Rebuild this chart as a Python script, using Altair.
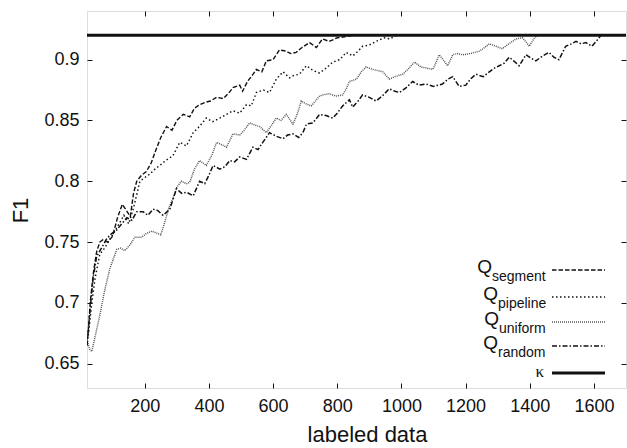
import altair as alt
import pandas as pd

# ---------------- data ----------------
X_DOMAIN = [20, 1700]
Y_DOMAIN = [0.63, 0.94]
X_TICKS = [200, 400, 600, 800, 1000, 1200, 1400, 1600]
Y_TICKS = [0.65, 0.7, 0.75, 0.8, 0.85, 0.9]
KAPPA = 0.92

series_names = ["segment", "pipeline", "uniform", "random"]

q_segment = [
    (20, 0.665), (25, 0.68), (30, 0.70), (40, 0.725), (50, 0.742), (60, 0.75),
    (70, 0.752), (85, 0.75), (100, 0.755), (115, 0.77), (130, 0.781), (145, 0.775),
    (155, 0.771), (165, 0.79), (175, 0.80), (190, 0.805), (205, 0.808), (220, 0.815),
    (235, 0.826), (250, 0.836), (268, 0.845), (285, 0.842), (300, 0.85), (320, 0.855),
    (340, 0.853), (355, 0.86), (371, 0.863), (390, 0.865), (405, 0.866), (424, 0.869),
    (445, 0.868), (460, 0.872), (475, 0.877), (496, 0.879), (505, 0.874), (520, 0.882),
    (535, 0.887), (548, 0.892), (565, 0.89), (579, 0.899), (600, 0.90), (620, 0.908),
    (640, 0.907), (655, 0.905), (672, 0.906), (690, 0.91), (714, 0.914), (735, 0.91),
    (754, 0.917), (775, 0.915), (800, 0.918), (828, 0.919), (848, 0.92),
]

q_pipeline = [
    (20, 0.67), (25, 0.675), (35, 0.70), (45, 0.72), (60, 0.74), (75, 0.745),
    (90, 0.752), (105, 0.758), (120, 0.765), (135, 0.772), (150, 0.765), (165, 0.778),
    (185, 0.80), (200, 0.803), (216, 0.806), (232, 0.81), (247, 0.813), (265, 0.817),
    (288, 0.821), (309, 0.832), (330, 0.829), (351, 0.84), (370, 0.845), (392, 0.852),
    (412, 0.849), (434, 0.852), (455, 0.855), (475, 0.858), (496, 0.856), (517, 0.863),
    (532, 0.862), (548, 0.873), (570, 0.875), (589, 0.873), (610, 0.884), (631, 0.89),
    (651, 0.885), (665, 0.887), (682, 0.888), (704, 0.895), (725, 0.891), (745, 0.889),
    (765, 0.893), (786, 0.898), (808, 0.90), (828, 0.906), (848, 0.903), (865, 0.907),
    (879, 0.911), (900, 0.912), (921, 0.915), (946, 0.918), (965, 0.917), (983, 0.92),
]

q_uniform = [
    (20, 0.67), (28, 0.662), (35, 0.66), (45, 0.672), (60, 0.69), (75, 0.71),
    (91, 0.728), (113, 0.744), (125, 0.745), (138, 0.743), (155, 0.748), (169, 0.754),
    (190, 0.754), (205, 0.757), (222, 0.759), (240, 0.757), (250, 0.756), (262, 0.766),
    (275, 0.778), (288, 0.786), (300, 0.795), (314, 0.80), (330, 0.798), (340, 0.799),
    (355, 0.81), (371, 0.817), (392, 0.813), (410, 0.822), (424, 0.832), (440, 0.83),
    (455, 0.828), (475, 0.839), (496, 0.838), (510, 0.842), (527, 0.848), (545, 0.846),
    (558, 0.845), (579, 0.84), (595, 0.846), (610, 0.852), (625, 0.85), (641, 0.855),
    (662, 0.847), (675, 0.855), (688, 0.866), (700, 0.864), (719, 0.862), (745, 0.87),
    (755, 0.871), (775, 0.872), (795, 0.87), (817, 0.871), (828, 0.876), (838, 0.882),
    (860, 0.884), (875, 0.89), (890, 0.894), (910, 0.892), (942, 0.89), (962, 0.884),
    (980, 0.886), (1004, 0.888), (1020, 0.892), (1041, 0.898), (1060, 0.894), (1080, 0.893),
    (1098, 0.892), (1110, 0.899), (1118, 0.904), (1130, 0.90), (1144, 0.895), (1160, 0.904),
    (1175, 0.905), (1191, 0.904), (1215, 0.905), (1243, 0.907), (1260, 0.91), (1274, 0.913),
    (1295, 0.911), (1314, 0.909), (1335, 0.913), (1357, 0.917), (1377, 0.918), (1390, 0.914),
    (1398, 0.911), (1410, 0.916), (1419, 0.919), (1429, 0.92),
]

q_random = [
    (20, 0.665), (28, 0.69), (39, 0.72), (50, 0.738), (65, 0.745), (82, 0.753),
    (97, 0.757), (113, 0.76), (128, 0.765), (144, 0.77), (160, 0.768), (175, 0.775),
    (195, 0.775), (210, 0.772), (226, 0.777), (240, 0.776), (257, 0.772), (278, 0.777),
    (299, 0.794), (315, 0.79), (330, 0.791), (351, 0.788), (371, 0.80), (387, 0.798),
    (400, 0.805), (413, 0.813), (434, 0.81), (450, 0.812), (465, 0.817), (480, 0.816),
    (496, 0.82), (517, 0.818), (537, 0.828), (553, 0.826), (568, 0.832), (589, 0.84),
    (610, 0.837), (631, 0.835), (645, 0.838), (662, 0.839), (680, 0.836), (693, 0.84),
    (704, 0.847), (724, 0.848), (745, 0.855), (765, 0.854), (786, 0.852), (800, 0.856),
    (817, 0.862), (838, 0.867), (848, 0.861), (865, 0.866), (879, 0.871), (900, 0.869),
    (921, 0.866), (940, 0.87), (962, 0.876), (980, 0.874), (994, 0.873), (1015, 0.877),
    (1035, 0.882), (1055, 0.879), (1076, 0.88), (1100, 0.878), (1128, 0.88), (1145, 0.884),
    (1160, 0.886), (1180, 0.878), (1201, 0.879), (1215, 0.884), (1232, 0.888), (1255, 0.886),
    (1274, 0.89), (1290, 0.893), (1305, 0.895), (1320, 0.897), (1336, 0.902), (1350, 0.899),
    (1367, 0.895), (1388, 0.904), (1405, 0.901), (1419, 0.899), (1440, 0.903), (1460, 0.906),
    (1475, 0.902), (1491, 0.90), (1512, 0.911), (1530, 0.913), (1544, 0.915), (1560, 0.913),
    (1575, 0.914), (1594, 0.911), (1610, 0.916), (1625, 0.921),
]

legend_subs = ["segment", "pipeline", "uniform", "random"]

# ---------------- build tables ----------------
rows = []
for name, pts in zip(series_names, [q_segment, q_pipeline, q_uniform, q_random]):
    for x, y in pts:
        rows.append({"series": name, "x": x, "y": y})
df = pd.DataFrame(rows)

FONT = "Liberation Sans"
INK = "#111111"

dash_scale = alt.Scale(domain=series_names,
                       range=[[4.5, 2], [1.5, 2.5], [1, 1], [5, 2, 1.5, 2]])
color_scale = alt.Scale(domain=series_names,
                        range=[INK, INK, "#555555", INK])
width_scale = alt.Scale(domain=series_names, range=[1.4, 1.5, 1.1, 1.4])

xscale = alt.Scale(domain=X_DOMAIN, nice=False, zero=False)
yscale = alt.Scale(domain=Y_DOMAIN, nice=False, zero=False)

tick_common = dict(domain=False, grid=False, offset=-5, tickSize=5,
                   tickColor=INK, tickWidth=1, labelFont=FONT,
                   labelFontSize=18, labelColor=INK)

lines = alt.Chart(df).mark_line(clip=True).encode(
    x=alt.X("x:Q", scale=xscale,
            axis=alt.Axis(orient="bottom", values=X_TICKS, format="d",
                          title="labeled data", titleX=280, titleY=58,
                          titleBaseline="alphabetic", titleFont=FONT,
                          titleFontSize=22, titleFontWeight="normal",
                          titleColor=INK, labelPadding=9, **tick_common)),
    y=alt.Y("y:Q", scale=yscale,
            axis=alt.Axis(orient="left", values=Y_TICKS, format=".2~f",
                          title="F1", titleAngle=-90, titleX=-65, titleY=199,
                          titleAlign="center", titleBaseline="alphabetic",
                          titleFont=FONT, titleFontSize=22,
                          titleFontWeight="normal", titleColor=INK,
                          labelPadding=8, **tick_common)),
    strokeDash=alt.StrokeDash("series:N", scale=dash_scale, legend=None),
    color=alt.Color("series:N", scale=color_scale, legend=None),
    strokeWidth=alt.StrokeWidth("series:N", scale=width_scale, legend=None),
)

kdf = pd.DataFrame({"x0": [X_DOMAIN[0]], "x1": [X_DOMAIN[1]], "k": [KAPPA]})
kappa = alt.Chart(kdf).mark_rule(color=INK, strokeWidth=3, clip=True).encode(
    x=alt.X("x0:Q", scale=xscale,
            axis=alt.Axis(orient="top", values=X_TICKS, labels=False,
                          title=None, **tick_common)),
    x2="x1",
    y=alt.Y("k:Q", scale=yscale,
            axis=alt.Axis(orient="right", values=Y_TICKS, labels=False,
                          title=None, **tick_common)),
)

# ---------------- custom legend (plot-area pixel layout) ----------------
row_y = [259, 286, 311, 335]
q_right = [405, 411, 412, 411]
ldf = pd.DataFrame({
    "series": series_names,
    "sub": legend_subs,
    "qx": q_right,
    "qy": [y + 3 for y in row_y],
    "sy": [y + 11 for y in row_y],
    "ly": row_y,
    "lx0": [465] * 4,
    "lx1": [518] * 4,
})

leg_lines = alt.Chart(ldf).mark_rule().encode(
    x=alt.X("lx0:Q", scale=None), x2="lx1",
    y=alt.Y("ly:Q", scale=None),
    strokeDash=alt.StrokeDash("series:N", scale=dash_scale, legend=None),
    color=alt.Color("series:N", scale=color_scale, legend=None),
    strokeWidth=alt.StrokeWidth("series:N", scale=width_scale, legend=None),
)
leg_q = alt.Chart(ldf).mark_text(align="right", baseline="alphabetic",
                                 font=FONT, fontSize=19, color=INK).encode(
    x=alt.X("qx:Q", scale=None), y=alt.Y("qy:Q", scale=None),
    text=alt.value("Q"),
)
leg_sub = alt.Chart(ldf).mark_text(align="left", baseline="alphabetic",
                                   font=FONT, fontSize=14, color=INK).encode(
    x=alt.X("qx:Q", scale=None), y=alt.Y("sy:Q", scale=None),
    text="sub:N",
)
leg_k_line = alt.Chart(kdf).mark_rule(color=INK, strokeWidth=3).encode(
    x=alt.value(465), x2=alt.value(518), y=alt.value(362),
)
leg_k_text = alt.Chart(kdf).mark_text(align="right", baseline="alphabetic",
                                      font="Liberation Serif", fontSize=17,
                                      color=INK).encode(
    x=alt.value(457), y=alt.value(366), text=alt.value("κ"),
)

chart = alt.layer(
    lines, kappa, leg_lines, leg_k_line, leg_q, leg_sub, leg_k_text
).properties(
    width=539, height=377,
    padding={"left": 87, "top": 11, "right": 1, "bottom": 60},
    autosize="none",
).configure_view(
    stroke=INK, strokeWidth=1
).configure(background="white")

chart.save("out.html", embed_options={"renderer": "svg", "actions": False})
